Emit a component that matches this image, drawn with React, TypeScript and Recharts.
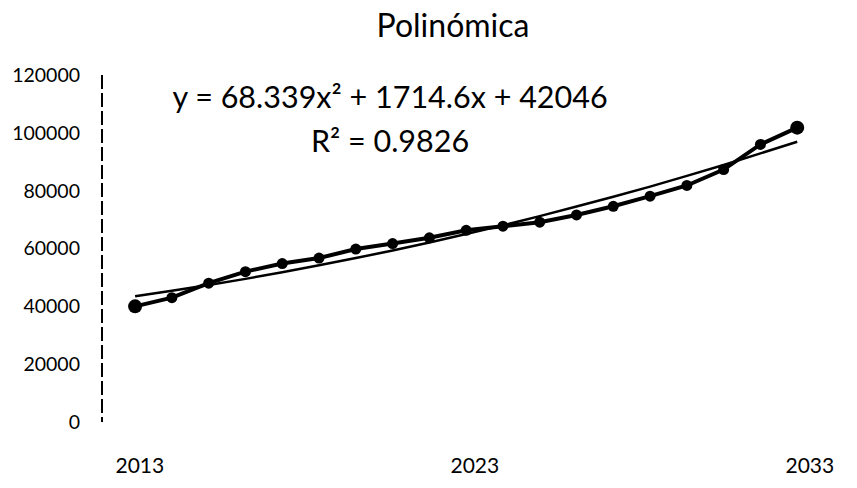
import React from "react";
import { LineChart, Line, XAxis, YAxis } from "recharts";

const periods = [1, 2, 3, 4, 5, 6, 7, 8, 9, 10, 11, 12, 13, 14, 15, 16, 17, 18, 19];
const values = [40000, 43000, 48000, 52000, 54800, 56700, 59800, 61700, 63700, 66300, 67700, 69100, 71600, 74600, 78100, 81800, 87300, 96000, 101800];
const trend = [43500, 45400, 47400, 49500, 51800, 54200, 56700, 59300, 62100, 65000, 68000, 71200, 74500, 77900, 81400, 85100, 88900, 92900, 96900];
const yTicks = [0, 20000, 40000, 60000, 80000, 100000, 120000];
const yearTicks = [2013, 2023, 2033];
const title = "Polinómica";
const equation = "y = 68.339x² + 1714.6x + 42046";
const r2 = "R² = 0.9826";

const data = periods.map((p, i) => ({ idx: p, value: values[i], trend: trend[i] }));

const FONT = "Lato, 'Open Sans', sans-serif";

const Dot = (props: any) => {
  const { cx, cy, index } = props;
  if (cx == null || cy == null) return null;
  const big = index === 0 || index === periods.length - 1;
  return <circle key={"d" + index} cx={cx} cy={cy} r={big ? 7 : 5.5} fill="#000" stroke="none" />;
};

export default function App() {
  return (
    <div style={{ position: "absolute", left: 0, top: 0, width: 857, height: 488, background: "#fff", fontFamily: FONT }}>
      <LineChart width={857} height={488} data={data} margin={{ top: 75, right: 23, bottom: 0, left: 0 }}>
        <XAxis
          xAxisId="yr"
          dataKey="idx"
          type="number"
          domain={[2011.87, 2033.72]}
          ticks={yearTicks}
          allowDataOverflow
          axisLine={false}
          tickLine={false}
          height={66}
          tickMargin={30}
          interval={0}
          tick={{ fill: "#000", fontSize: 21, fontFamily: FONT }}
        />
        <XAxis xAxisId="idx" dataKey="idx" type="number" domain={[0.1, 20]} hide allowDataOverflow height={0} />
        <YAxis
          type="number"
          domain={[0, 120000]}
          ticks={yTicks}
          width={102}
          tickLine={false}
          tickMargin={16}
          axisLine={{ stroke: "#000", strokeWidth: 2, strokeDasharray: "14 4" }}
          tick={{ fill: "#000", fontSize: 19.5, fontFamily: FONT }}
          interval={0}
        />
        <Line
          xAxisId="idx"
          type="linear"
          dataKey="trend"
          stroke="#000"
          strokeWidth={2.5}
          dot={false}
          isAnimationActive={false}
        />
        <Line
          xAxisId="idx"
          type="linear"
          dataKey="value"
          stroke="#000"
          strokeWidth={4}
          dot={Dot}
          activeDot={false}
          isAnimationActive={false}
        />
      </LineChart>
      <div style={{ position: "absolute", left: 453, top: 24, transform: "translate(-50%, -50%)", fontSize: 32, color: "#000", whiteSpace: "nowrap" }}>
        {title}
      </div>
      <div style={{ position: "absolute", left: 390, top: 96, transform: "translate(-50%, -50%)", fontSize: 30.5, color: "#000", whiteSpace: "nowrap" }}>
        {equation}
      </div>
      <div style={{ position: "absolute", left: 390, top: 140, transform: "translate(-50%, -50%)", fontSize: 30.5, color: "#000", whiteSpace: "nowrap" }}>
        {r2}
      </div>
    </div>
  );
}
